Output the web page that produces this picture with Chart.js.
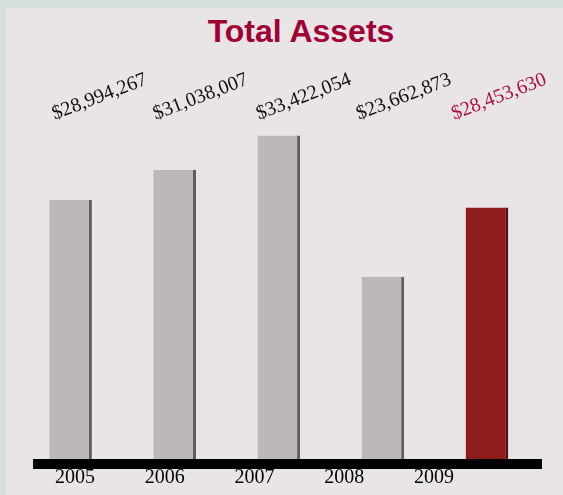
<!DOCTYPE html>
<html>
<head>
<meta charset="utf-8">
<script src="https://cdn.jsdelivr.net/npm/chart.js@4.4.0/dist/chart.umd.min.js"></script>
<style>
  html, body { margin: 0; padding: 0; overflow: hidden; }
  body { width: 563px; height: 495px; background: #d6dfdd; position: relative; }
  .panel { position: absolute; left: 6px; top: 8px; right: 0; bottom: 0; background: #e9e4e6; }
  .title {
    position: absolute; left: 0; top: 15px; width: 602px; text-align: center;
    font: bold 32px "Liberation Sans", Arial, sans-serif; line-height: 32px; color: #a00034;
  }
  .chart--box { position: absolute; left: 0; top: 0; width: 563px; height: 495px; }
</style>
</head>
<body>
<div class="panel"></div>
<div class="title">Total Assets</div>
<div class="chart--box"><canvas id="assetsChart"></canvas></div>
<script>
// data
var years = ['2005', '2006', '2007', '2008', '2009'];
var totalAssets = [28994267, 31038007, 33422054, 23662873, 28453630];
var assetLabels = ['$28,994,267', '$31,038,007', '$33,422,054', '$23,662,873', '$28,453,630'];

var barColors = ['#bcb7b9', '#bcb7b9', '#bcb7b9', '#bcb7b9', '#8e1c1c'];
var edgeColors = ['#615d5e', '#615d5e', '#615d5e', '#615d5e', '#5a0f0f'];
var labelColors = ['#111111', '#111111', '#111111', '#111111', '#ad1040'];
var labelShift = [29, 26, 25, 21, 12]; // value labels drift left of the bars

// slanted value labels + the thick black base line
var valueLabels = {
    id: 'valueLabels',
    afterDatasetsDraw: function(chart) {
        var ctx = chart.ctx;
        var x = chart.scales.x;
        var area = chart.chartArea;

        ctx.save();
        ctx.fillStyle = '#000000';
        ctx.fillRect(33, area.bottom, 509, 10);
        ctx.restore();

        assetLabels.forEach(function(text, i) {
            var px = x.getPixelForValue(i) + labelShift[i];
            ctx.save();
            ctx.translate(px, 97);
            ctx.rotate(-21 * Math.PI / 180);
            ctx.font = '20px "Liberation Serif", "Times New Roman", serif';
            ctx.fillStyle = labelColors[i];
            ctx.textAlign = 'center';
            ctx.textBaseline = 'middle';
            ctx.fillText(text, 0, 0);
            ctx.restore();
        });
    }
};

var chartElement = document.getElementById('assetsChart');

new Chart(chartElement, {
    type: 'bar',
    data: {
        labels: years,
        datasets: [{
            label: 'Total Assets',
            data: totalAssets,
            backgroundColor: barColors,
            borderColor: edgeColors,
            borderWidth: { top: 0, left: 0, bottom: 0, right: 3 },
            borderSkipped: false,
            categoryPercentage: 1,
            barPercentage: 0.41
        }]
    },
    options: {
        responsive: true,
        maintainAspectRatio: false,
        animation: false,
        plugins: {
            legend: { display: false },
            tooltip: { enabled: false }
        },
        layout: {
            padding: { top: 100, bottom: 0, left: 18.5, right: 24 }
        },
        scales: {
            x: {
                display: false
            },
            // year labels sit on their own spacing, not under the bars
            years: {
                type: 'linear',
                position: 'bottom',
                offset: false,
                min: -0.6306,
                max: 5.1688,
                grid: { display: false, drawTicks: false, offset: false },
                border: { display: false },
                afterBuildTicks: function(axis) {
                    axis.ticks = years.map(function(y, i) { return { value: i }; });
                },
                afterFit: function(axis) {
                    axis.height = 36;
                },
                ticks: {
                    padding: 7,
                    color: '#000000',
                    font: { family: '"Liberation Serif", "Times New Roman", serif', size: 20 },
                    callback: function(value) { return years[value]; }
                }
            },
            y: {
                display: false,
                min: 11070000,
                max: 35880000
            }
        }
    },
    plugins: [valueLabels]
});
</script>
</body>
</html>
